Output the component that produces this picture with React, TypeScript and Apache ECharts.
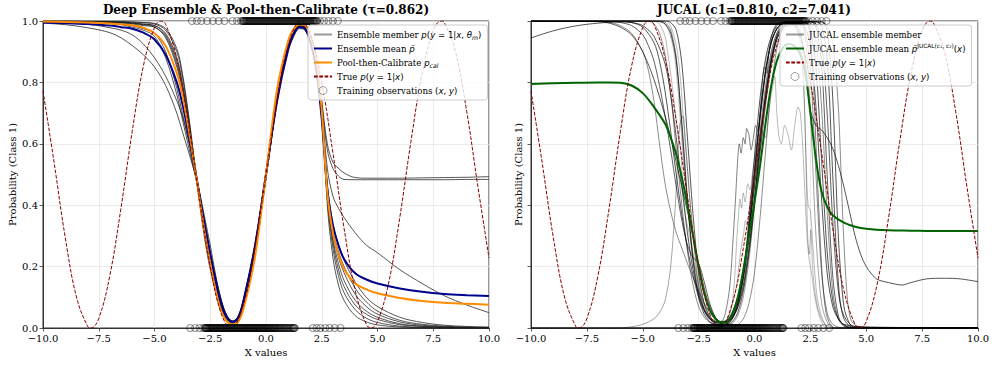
import React, { useEffect, useRef } from "react";
import * as echarts from "echarts";

// ---------- shared x grid for the left panel ----------
const X_L = [-10, -9, -8, -7, -6.5, -6, -5.5, -5, -4.5, -4, -3.75, -3.5, -3.25, -3, -2.75, -2.5, -2.25, -2, -1.75, -1.5, -1.25, -1, -0.5, 0, 0.5, 1, 1.25, 1.5, 1.75, 2, 2.25, 2.5, 2.75, 3, 3.25, 3.5, 4, 4.5, 5, 6, 7, 8, 9, 10];

// left panel: deep-ensemble members
const L_M1 = [0.993, 0.988, 0.978, 0.962, 0.945, 0.92, 0.89, 0.85, 0.79, 0.70, 0.64, 0.58, 0.52, 0.45, 0.36, 0.27, 0.17, 0.09, 0.04, 0.022, 0.035, 0.09, 0.26, 0.49, 0.73, 0.9, 0.95, 0.975, 0.97, 0.925, 0.84, 0.70, 0.46, 0.32, 0.25, 0.20, 0.13, 0.085, 0.055, 0.025, 0.012, 0.006, 0.003, 0.002];
const L_M2 = [0.997, 0.994, 0.99, 0.978, 0.97, 0.955, 0.925, 0.88, 0.82, 0.74, 0.69, 0.62, 0.54, 0.45, 0.34, 0.24, 0.15, 0.08, 0.035, 0.02, 0.035, 0.095, 0.27, 0.5, 0.74, 0.91, 0.955, 0.98, 0.975, 0.93, 0.845, 0.69, 0.44, 0.29, 0.21, 0.155, 0.09, 0.055, 0.035, 0.014, 0.006, 0.003, 0.001, 0.001];
const L_M3 = [0.999, 0.999, 0.998, 0.997, 0.996, 0.994, 0.99, 0.985, 0.96, 0.88, 0.80, 0.69, 0.56, 0.43, 0.31, 0.21, 0.13, 0.065, 0.03, 0.018, 0.03, 0.085, 0.255, 0.5, 0.75, 0.92, 0.965, 0.985, 0.98, 0.94, 0.86, 0.74, 0.60, 0.54, 0.52, 0.505, 0.49, 0.488, 0.488, 0.488, 0.489, 0.49, 0.491, 0.493];
const L_M4 = [0.999, 0.999, 0.998, 0.996, 0.995, 0.992, 0.988, 0.98, 0.95, 0.86, 0.78, 0.68, 0.56, 0.44, 0.32, 0.22, 0.14, 0.07, 0.032, 0.02, 0.033, 0.09, 0.26, 0.5, 0.745, 0.915, 0.96, 0.982, 0.978, 0.935, 0.855, 0.73, 0.58, 0.52, 0.495, 0.484, 0.483, 0.483, 0.483, 0.483, 0.483, 0.483, 0.484, 0.484];
const L_M5 = [0.999, 0.998, 0.997, 0.994, 0.99, 0.985, 0.975, 0.96, 0.90, 0.78, 0.70, 0.62, 0.53, 0.44, 0.34, 0.24, 0.16, 0.085, 0.038, 0.022, 0.036, 0.095, 0.27, 0.51, 0.75, 0.915, 0.96, 0.98, 0.975, 0.93, 0.85, 0.72, 0.52, 0.43, 0.39, 0.36, 0.31, 0.27, 0.245, 0.19, 0.145, 0.105, 0.075, 0.05];
const L_M6 = [0.999, 0.999, 0.999, 0.998, 0.997, 0.996, 0.994, 0.99, 0.97, 0.90, 0.82, 0.70, 0.56, 0.42, 0.30, 0.20, 0.12, 0.06, 0.028, 0.017, 0.03, 0.08, 0.25, 0.49, 0.74, 0.915, 0.962, 0.985, 0.98, 0.935, 0.85, 0.71, 0.42, 0.26, 0.17, 0.115, 0.06, 0.032, 0.018, 0.006, 0.002, 0.001, 0, 0];
const L_M7 = [0.999, 0.998, 0.996, 0.992, 0.988, 0.98, 0.97, 0.95, 0.88, 0.76, 0.68, 0.60, 0.52, 0.44, 0.35, 0.25, 0.165, 0.09, 0.04, 0.023, 0.038, 0.1, 0.275, 0.51, 0.745, 0.91, 0.955, 0.978, 0.972, 0.925, 0.84, 0.68, 0.43, 0.28, 0.19, 0.135, 0.075, 0.045, 0.028, 0.011, 0.005, 0.002, 0.001, 0];
const L_M8 = [0.999, 0.999, 0.999, 0.998, 0.998, 0.997, 0.995, 0.992, 0.975, 0.91, 0.83, 0.71, 0.57, 0.42, 0.29, 0.19, 0.115, 0.055, 0.026, 0.016, 0.028, 0.078, 0.245, 0.49, 0.74, 0.92, 0.965, 0.987, 0.982, 0.94, 0.86, 0.72, 0.40, 0.23, 0.14, 0.09, 0.04, 0.02, 0.01, 0.003, 0.001, 0, 0, 0];
const L_M9 = [0.999, 0.999, 0.998, 0.996, 0.994, 0.99, 0.985, 0.98, 0.945, 0.85, 0.77, 0.675, 0.555, 0.435, 0.32, 0.22, 0.14, 0.072, 0.033, 0.02, 0.032, 0.088, 0.26, 0.5, 0.745, 0.915, 0.96, 0.983, 0.978, 0.935, 0.855, 0.70, 0.45, 0.31, 0.23, 0.18, 0.11, 0.07, 0.045, 0.02, 0.009, 0.004, 0.002, 0.001];
const L_M10 = [0.999, 0.999, 0.998, 0.997, 0.995, 0.993, 0.989, 0.985, 0.955, 0.87, 0.79, 0.685, 0.56, 0.435, 0.315, 0.215, 0.14, 0.072, 0.033, 0.02, 0.034, 0.09, 0.262, 0.5, 0.75, 0.918, 0.962, 0.984, 0.979, 0.936, 0.856, 0.71, 0.47, 0.34, 0.27, 0.22, 0.15, 0.10, 0.07, 0.035, 0.018, 0.009, 0.005, 0.003];
const L_MEMBERS = [L_M1, L_M2, L_M3, L_M4, L_M5, L_M6, L_M7, L_M8, L_M9, L_M10];

// left panel: ensemble mean and pool-then-calibrate
const L_MEAN = [0.995, 0.993, 0.99, 0.985, 0.98, 0.975, 0.962, 0.94, 0.89, 0.80, 0.73, 0.64, 0.545, 0.44, 0.335, 0.24, 0.15, 0.078, 0.035, 0.02, 0.034, 0.09, 0.26, 0.5, 0.745, 0.912, 0.958, 0.98, 0.975, 0.93, 0.845, 0.68, 0.45, 0.335, 0.27, 0.225, 0.178, 0.158, 0.145, 0.129, 0.118, 0.111, 0.107, 0.104];
const L_CAL = [0.998, 0.997, 0.995, 0.992, 0.989, 0.986, 0.978, 0.96, 0.919, 0.83, 0.76, 0.66, 0.55, 0.43, 0.31, 0.21, 0.12, 0.053, 0.021, 0.011, 0.02, 0.065, 0.229, 0.5, 0.778, 0.937, 0.975, 0.989, 0.986, 0.95, 0.875, 0.71, 0.44, 0.31, 0.24, 0.192, 0.145, 0.126, 0.113, 0.098, 0.088, 0.082, 0.079, 0.076];

// true p(y=1|x)
const X_TRUE = [-10, -9.5, -9, -8.5, -8, -7.85, -7.5, -7, -6.5, -6, -5.5, -5, -4.71, -4.5, -4, -3.5, -3, -2.5, -2, -1.57, -1, -0.5, 0, 0.5, 1, 1.57, 2, 2.5, 3, 3.5, 4, 4.5, 4.71, 5, 5.5, 6, 6.5, 7, 7.5, 7.85, 8, 8.5, 9, 9.5, 10];
const P_TRUE = [0.772, 0.538, 0.294, 0.101, 0.005, 0, 0.031, 0.172, 0.392, 0.64, 0.853, 0.979, 1, 0.989, 0.878, 0.675, 0.429, 0.201, 0.045, 0, 0.079, 0.26, 0.5, 0.74, 0.921, 1, 0.955, 0.799, 0.571, 0.325, 0.122, 0.011, 0, 0.021, 0.147, 0.36, 0.608, 0.828, 0.969, 1, 0.995, 0.899, 0.706, 0.462, 0.228];

// training observations (x positions; label 1 drawn on top, label 0 at bottom)
const OBS_X_LABEL1 = [-3.32, -3.1, -2.9, -2.64, -2.38, -2.12, -1.86, -1.5, -1.3, -1.12,
  -1.05, -1.02, -1.0, -0.97, -0.94, -0.91, -0.89, -0.86, -0.84, -0.81, -0.78, -0.75, -0.73, -0.7, -0.68, -0.65, -0.62, -0.6, -0.57, -0.54, -0.51, -0.49, -0.46, -0.43, -0.41, -0.38, -0.35, -0.32, -0.29, -0.27, -0.24, -0.21, -0.19, -0.16, -0.13, -0.1, -0.08, -0.05, -0.02, 0.01, 0.03, 0.06, 0.09, 0.12, 0.14, 0.17, 0.2, 0.23, 0.25, 0.28, 0.31, 0.34, 0.36, 0.39, 0.42, 0.45, 0.47, 0.5, 0.53, 0.56, 0.58, 0.61, 0.64, 0.66, 0.69, 0.72, 0.75, 0.78, 0.8, 0.83, 0.86, 0.89, 0.91, 0.94, 0.97, 1.0, 1.02, 1.05, 1.08, 1.11, 1.13, 1.16, 1.19, 1.22, 1.24, 1.27, 1.3, 1.33, 1.35, 1.38, 1.41, 1.44, 1.46, 1.49, 1.52, 1.55, 1.57, 1.6, 1.63, 1.66, 1.68, 1.71, 1.74, 1.77, 1.79, 1.82, 1.85, 1.88, 1.9, 1.93, 1.96, 1.99, 2.01, 2.04, 2.07, 2.1, 2.12, 2.15, 2.18, 2.21, 2.24, 2.27, 2.29,
  2.42, 2.6, 2.8, 3.0, 3.22];
const OBS_X_LABEL0 = [-3.4, -3.18, -2.98, -2.82,
  -2.74, -2.72, -2.7, -2.67, -2.65, -2.63, -2.61, -2.58, -2.55, -2.53, -2.5, -2.48, -2.46, -2.43, -2.4, -2.38, -2.36, -2.33, -2.31, -2.28, -2.25, -2.23, -2.21, -2.18, -2.16, -2.13, -2.1, -2.08, -2.06, -2.03, -2.01, -1.98, -1.95, -1.93, -1.91, -1.88, -1.86, -1.83, -1.8, -1.78, -1.76, -1.73, -1.71, -1.68, -1.65, -1.63, -1.61, -1.58, -1.56, -1.53, -1.5, -1.48, -1.46, -1.43, -1.41, -1.38, -1.35, -1.33, -1.31, -1.28, -1.26, -1.23, -1.2, -1.18, -1.16, -1.13, -1.11, -1.08, -1.05, -1.03, -1.01, -0.98, -0.96, -0.93, -0.9, -0.88, -0.86, -0.83, -0.81, -0.78, -0.75, -0.73, -0.71, -0.68, -0.66, -0.63, -0.6, -0.58, -0.56, -0.53, -0.51, -0.48, -0.45, -0.43, -0.41, -0.38, -0.36, -0.33, -0.3, -0.28, -0.26, -0.23, -0.21, -0.18, -0.15, -0.13, -0.11, -0.08, -0.06, -0.03, 0.0, 0.03, 0.05, 0.08, 0.1, 0.13, 0.16, 0.19, 0.21, 0.24, 0.27, 0.3, 0.33, 0.36, 0.38, 0.41, 0.44, 0.47, 0.5, 0.54, 0.57, 0.6, 0.63, 0.67, 0.7, 0.74, 0.78, 0.82, 0.85, 0.89, 0.93, 0.97, 1.01, 1.05, 1.09, 1.13, 1.17, 1.21, 1.24, 1.27, 1.29,
  2.1, 2.27, 2.44, 2.66, 2.85, 3.08, 3.34];

// right panel: JUCAL members, [x, p] pairs
const R_M1 = [[-10, 0.945], [-9, 0.968], [-8, 0.984], [-7, 0.993], [-6, 0.997], [-5.5, 0.995], [-5, 0.985], [-4.5, 0.95], [-4, 0.86], [-3.75, 0.76], [-3.5, 0.62], [-3.25, 0.46], [-3, 0.31], [-2.75, 0.19], [-2.5, 0.11], [-2.25, 0.06], [-2, 0.035], [-1.75, 0.022], [-1.5, 0.018], [-1.25, 0.025], [-1, 0.05], [-0.75, 0.1], [-0.5, 0.19], [-0.25, 0.31], [0, 0.46], [0.25, 0.62], [0.5, 0.76], [0.75, 0.87], [1, 0.94], [1.25, 0.975], [1.5, 0.99], [2, 0.993], [2.25, 0.98], [2.5, 0.92], [2.75, 0.72], [3, 0.42], [3.25, 0.18], [3.5, 0.07], [3.75, 0.03], [4, 0.012], [5, 0.002], [10, 0]];
const R_M2 = [[-10, 0.999], [-7, 0.998], [-6.5, 0.993], [-6, 0.98], [-5.5, 0.955], [-5, 0.9], [-4.5, 0.81], [-4, 0.69], [-3.75, 0.62], [-3.5, 0.54], [-3.25, 0.46], [-3, 0.38], [-2.75, 0.3], [-2.5, 0.21], [-2.25, 0.13], [-2, 0.07], [-1.75, 0.035], [-1.5, 0.02], [-1.25, 0.02], [-1, 0.035], [-0.75, 0.07], [-0.5, 0.14], [-0.25, 0.26], [0, 0.42], [0.25, 0.6], [0.5, 0.75], [0.75, 0.87], [1, 0.95], [1.25, 0.985], [1.5, 0.995], [2.25, 0.995], [2.5, 0.97], [2.75, 0.85], [3, 0.55], [3.25, 0.25], [3.5, 0.09], [3.75, 0.03], [4, 0.01], [4.5, 0], [10, 0]];
const R_M3 = [[-10, 1], [-6.5, 0.999], [-6, 0.995], [-5.5, 0.985], [-5, 0.955], [-4.75, 0.92], [-4.5, 0.87], [-4.25, 0.79], [-4, 0.69], [-3.75, 0.58], [-3.5, 0.46], [-3.25, 0.35], [-3, 0.27], [-2.75, 0.23], [-2.5, 0.21], [-2.25, 0.15], [-2, 0.08], [-1.75, 0.035], [-1.5, 0.015], [-1.25, 0.012], [-1, 0.02], [-0.75, 0.05], [-0.5, 0.12], [-0.25, 0.24], [0, 0.4], [0.25, 0.57], [0.5, 0.73], [0.75, 0.86], [1, 0.94], [1.25, 0.98], [1.5, 0.995], [2.5, 0.998], [2.75, 0.99], [3, 0.93], [3.25, 0.7], [3.5, 0.35], [3.75, 0.12], [4, 0.04], [4.5, 0.005], [10, 0]];
const R_M4 = [[-10, 1], [-4.5, 1], [-4.25, 0.998], [-4, 0.99], [-3.75, 0.96], [-3.5, 0.87], [-3.25, 0.67], [-3, 0.42], [-2.75, 0.22], [-2.5, 0.1], [-2.25, 0.045], [-2, 0.02], [-1.75, 0.01], [-1.5, 0.008], [-1.25, 0.012], [-1, 0.03], [-0.75, 0.07], [-0.5, 0.16], [-0.25, 0.3], [0, 0.5], [0.25, 0.69], [0.5, 0.84], [0.75, 0.93], [1, 0.975], [1.25, 0.992], [1.5, 0.998], [3, 0.998], [3.25, 0.97], [3.5, 0.75], [3.75, 0.3], [4, 0.07], [4.25, 0.015], [4.5, 0], [10, 0]];
const R_M5 = [[-10, 1], [-4, 1], [-3.75, 0.995], [-3.5, 0.97], [-3.25, 0.86], [-3, 0.62], [-2.75, 0.37], [-2.5, 0.18], [-2.25, 0.08], [-2, 0.035], [-1.75, 0.015], [-1.5, 0.01], [-1.25, 0.015], [-1, 0.035], [-0.75, 0.08], [-0.5, 0.18], [-0.25, 0.35], [0, 0.56], [0.25, 0.75], [0.5, 0.88], [0.75, 0.95], [1, 0.985], [1.25, 0.997], [2.75, 0.998], [3, 0.985], [3.25, 0.88], [3.5, 0.5], [3.75, 0.15], [4, 0.03], [4.5, 0], [10, 0]];
const R_M6 = [[-10, 1], [-7, 0.999], [-6.5, 0.996], [-6, 0.985], [-5.5, 0.96], [-5, 0.9], [-4.75, 0.84], [-4.5, 0.74], [-4.25, 0.6], [-4, 0.47], [-3.75, 0.38], [-3.5, 0.31], [-3.25, 0.26], [-3, 0.21], [-2.75, 0.165], [-2.5, 0.12], [-2.25, 0.08], [-2, 0.05], [-1.75, 0.03], [-1.5, 0.022], [-1.25, 0.025], [-1, 0.045], [-0.75, 0.09], [-0.5, 0.17], [-0.25, 0.3], [0, 0.47], [0.25, 0.64], [0.5, 0.79], [0.75, 0.9], [1, 0.96], [1.25, 0.985], [1.5, 0.995], [2, 0.995], [2.25, 0.97], [2.5, 0.84], [2.75, 0.5], [3, 0.18], [3.25, 0.05], [3.5, 0.012], [4, 0], [10, 0]];
const R_M7 = [[-10, 0], [-6, 0], [-5.5, 0.004], [-5, 0.012], [-4.5, 0.03], [-4.25, 0.05], [-4, 0.09], [-3.75, 0.2], [-3.5, 0.45], [-3.35, 0.66], [-3.2, 0.69], [-3.1, 0.62], [-3, 0.52], [-2.75, 0.3], [-2.5, 0.14], [-2.25, 0.06], [-2, 0.025], [-1.5, 0.008], [-1, 0.015], [-0.75, 0.04], [-0.5, 0.1], [-0.25, 0.22], [0, 0.4], [0.25, 0.6], [0.5, 0.77], [0.75, 0.89], [1, 0.96], [1.25, 0.99], [2, 0.995], [2.25, 0.96], [2.5, 0.7], [2.75, 0.3], [3, 0.08], [3.25, 0.02], [3.5, 0], [10, 0]];
const R_M8 = [[-10, 0], [-2, 0], [-1.5, 0.004], [-1.25, 0.01], [-1, 0.03], [-0.75, 0.08], [-0.5, 0.17], [-0.25, 0.32], [0, 0.5], [0.25, 0.68], [0.5, 0.83], [0.75, 0.93], [1, 0.975], [1.25, 0.992], [1.5, 0.998], [2.5, 0.998], [2.75, 0.98], [3, 0.86], [3.25, 0.5], [3.5, 0.17], [3.75, 0.04], [4, 0.008], [4.5, 0], [10, 0]];
const R_M9 = [[-10, 0], [-1, 0], [-0.75, 0.01], [-0.5, 0.03], [-0.25, 0.08], [0, 0.18], [0.25, 0.36], [0.5, 0.58], [0.75, 0.78], [1, 0.91], [1.25, 0.97], [1.5, 0.99], [2.25, 0.995], [2.5, 0.985], [2.75, 0.93], [3, 0.72], [3.25, 0.38], [3.5, 0.12], [3.75, 0.03], [4, 0.006], [4.5, 0], [10, 0]];
const R_M10 = [[-10, 1], [-6, 0.999], [-5.5, 0.995], [-5, 0.98], [-4.5, 0.93], [-4.25, 0.87], [-4, 0.77], [-3.75, 0.64], [-3.5, 0.5], [-3.25, 0.37], [-3, 0.26], [-2.75, 0.17], [-2.5, 0.1], [-2.25, 0.055], [-2, 0.03], [-1.75, 0.018], [-1.5, 0.015], [-1.25, 0.02], [-1, 0.04], [-0.75, 0.09], [-0.5, 0.18], [-0.25, 0.33], [0, 0.52], [0.25, 0.7], [0.5, 0.84], [0.75, 0.93], [1, 0.975], [1.25, 0.99], [1.75, 0.99], [2, 0.97], [2.25, 0.88], [2.5, 0.71], [2.75, 0.66], [3, 0.645], [3.25, 0.62], [3.5, 0.585], [3.75, 0.53], [4, 0.46], [4.25, 0.38], [4.5, 0.3], [4.75, 0.24], [5, 0.2], [5.25, 0.175], [5.5, 0.158], [6, 0.148], [6.6, 0.14], [7, 0.148], [7.7, 0.16], [8.5, 0.162], [9.2, 0.16], [10, 0.151]];
const R_M11 = [[-10, 1], [-4.75, 1], [-4.5, 0.99], [-4.25, 0.96], [-4, 0.89], [-3.75, 0.76], [-3.5, 0.58], [-3.25, 0.4], [-3, 0.25], [-2.75, 0.14], [-2.5, 0.07], [-2.25, 0.035], [-2, 0.018], [-1.5, 0.01], [-1.25, 0.015], [-1, 0.03], [-0.75, 0.065], [-0.5, 0.13], [-0.25, 0.25], [0, 0.42], [0.25, 0.6], [0.5, 0.76], [0.75, 0.88], [1, 0.95], [1.25, 0.98], [1.5, 0.995], [3, 0.996], [3.25, 0.985], [3.5, 0.93], [3.75, 0.72], [3.9, 0.45], [4, 0.28], [4.15, 0.1], [4.3, 0.03], [4.5, 0.01], [5, 0], [10, 0]];
const R_N1 = [[-10, 1], [-4.25, 1], [-4, 0.995], [-3.75, 0.97], [-3.5, 0.88], [-3.3, 0.7], [-3.1, 0.5], [-2.9, 0.33], [-2.7, 0.2], [-2.5, 0.12], [-2.25, 0.06], [-2, 0.03], [-1.75, 0.02], [-1.5, 0.02], [-1.3, 0.05], [-1.1, 0.14], [-0.95, 0.3], [-0.85, 0.42], [-0.75, 0.55], [-0.68, 0.6], [-0.6, 0.57], [-0.5, 0.62], [-0.42, 0.6], [-0.35, 0.65], [-0.25, 0.63], [-0.15, 0.58], [-0.05, 0.62], [0.05, 0.66], [0.15, 0.64], [0.25, 0.7], [0.35, 0.8], [0.45, 0.85], [0.55, 0.83], [0.65, 0.9], [0.8, 0.96], [1, 0.99], [1.5, 0.998], [2.3, 0.998], [2.45, 0.97], [2.6, 0.85], [2.75, 0.6], [2.9, 0.35], [3.05, 0.15], [3.2, 0.05], [3.4, 0.01], [3.6, 0], [10, 0]];
const R_N2 = [[-10, 1], [-4.5, 1], [-4.25, 0.99], [-4, 0.95], [-3.85, 0.88], [-3.7, 0.8], [-3.6, 0.74], [-3.45, 0.64], [-3.3, 0.58], [-3.2, 0.45], [-3.05, 0.35], [-2.9, 0.3], [-2.75, 0.22], [-2.6, 0.18], [-2.45, 0.1], [-2.25, 0.06], [-2, 0.03], [-1.75, 0.02], [-1.5, 0.015], [-1.25, 0.025], [-1.05, 0.06], [-0.9, 0.15], [-0.8, 0.28], [-0.72, 0.36], [-0.65, 0.42], [-0.58, 0.39], [-0.5, 0.44], [-0.42, 0.41], [-0.3, 0.47], [-0.2, 0.45], [-0.1, 0.5], [0, 0.55], [0.1, 0.6], [0.2, 0.65], [0.3, 0.72], [0.4, 0.78], [0.5, 0.86], [0.6, 0.9], [0.8, 0.95], [1, 0.98], [1.2, 0.97], [1.4, 0.99], [2.0, 0.99], [2.1, 0.96], [2.2, 0.8], [2.3, 0.55], [2.38, 0.3], [2.45, 0.24], [2.52, 0.32], [2.6, 0.2], [2.7, 0.12], [2.85, 0.06], [3, 0.03], [3.2, 0.01], [3.5, 0], [10, 0]];
const R_L1 = [[-10, 1], [-4, 1], [-3.8, 0.99], [-3.6, 0.95], [-3.45, 0.9], [-3.3, 0.8], [-3.2, 0.7], [-3.1, 0.6], [-3.0, 0.52], [-2.9, 0.42], [-2.8, 0.35], [-2.65, 0.24], [-2.5, 0.17], [-2.35, 0.1], [-2.2, 0.07], [-2, 0.04], [-1.75, 0.02], [-1.5, 0.015], [-1.3, 0.02], [-1.1, 0.05], [-0.95, 0.09], [-0.8, 0.14], [-0.7, 0.2], [-0.6, 0.26], [-0.5, 0.3], [-0.4, 0.35], [-0.3, 0.33], [-0.2, 0.42], [-0.1, 0.46], [0, 0.5], [0.1, 0.55], [0.2, 0.61], [0.3, 0.66], [0.4, 0.7], [0.5, 0.75], [0.6, 0.8], [0.7, 0.86], [0.85, 0.91], [1, 0.95], [1.15, 0.97], [1.3, 0.985], [1.5, 0.98], [1.7, 0.99], [1.9, 0.97], [2.05, 0.92], [2.15, 0.85], [2.25, 0.7], [2.32, 0.52], [2.4, 0.4], [2.5, 0.38], [2.6, 0.28], [2.7, 0.18], [2.8, 0.1], [2.95, 0.05], [3.1, 0.02], [3.3, 0], [10, 0]];
const R_L2 = [[-10, 1], [-4.2, 1], [-4, 0.99], [-3.8, 0.96], [-3.6, 0.9], [-3.45, 0.8], [-3.3, 0.66], [-3.15, 0.52], [-3.0, 0.4], [-2.85, 0.3], [-2.7, 0.22], [-2.5, 0.14], [-2.25, 0.07], [-2, 0.03], [-1.75, 0.015], [-1.5, 0.01], [-1.2, 0.02], [-1, 0.04], [-0.8, 0.08], [-0.6, 0.13], [-0.4, 0.2], [-0.25, 0.28], [-0.1, 0.36], [0, 0.4], [0.1, 0.48], [0.2, 0.56], [0.3, 0.6], [0.4, 0.64], [0.5, 0.62], [0.6, 0.68], [0.7, 0.74], [0.8, 0.78], [0.9, 0.82], [1.0, 0.7], [1.1, 0.62], [1.2, 0.6], [1.35, 0.66], [1.5, 0.63], [1.65, 0.58], [1.8, 0.66], [1.95, 0.72], [2.05, 0.7], [2.15, 0.6], [2.25, 0.45], [2.35, 0.3], [2.45, 0.22], [2.55, 0.18], [2.7, 0.1], [2.85, 0.05], [3, 0.02], [3.2, 0], [10, 0]];
const R_MEMBERS = [R_M1, R_M2, R_M3, R_M4, R_M5, R_M6, R_M7, R_M8, R_M9, R_M10, R_M11, R_N1, R_N2, R_L1, R_L2];
// line opacity per member (style, kept apart from data)
const R_MEMBER_OPACITY = [0.75, 0.75, 0.7, 0.75, 0.75, 0.5, 0.4, 0.7, 0.5, 0.75, 0.5, 0.55, 0.3, 0.3, 0.3];

// right panel: JUCAL ensemble mean
const R_MEAN = [[-10, 0.795], [-9, 0.797], [-8, 0.799], [-7, 0.8], [-6.5, 0.8], [-6, 0.799], [-5.5, 0.79], [-5, 0.765], [-4.5, 0.72], [-4, 0.665], [-3.75, 0.62], [-3.5, 0.565], [-3.25, 0.49], [-3, 0.4], [-2.75, 0.3], [-2.5, 0.2], [-2.25, 0.115], [-2, 0.06], [-1.75, 0.03], [-1.5, 0.018], [-1.25, 0.02], [-1, 0.045], [-0.75, 0.1], [-0.5, 0.19], [-0.25, 0.3], [0, 0.41], [0.25, 0.53], [0.5, 0.67], [0.75, 0.79], [1, 0.87], [1.25, 0.91], [1.5, 0.925], [1.75, 0.92], [2, 0.9], [2.25, 0.84], [2.5, 0.7], [2.75, 0.55], [3, 0.445], [3.25, 0.395], [3.5, 0.367], [4, 0.343], [4.5, 0.33], [5, 0.323], [6, 0.318], [7, 0.317], [8, 0.316], [9, 0.316], [10, 0.316]];

// tick settings
const X_MIN = -10, X_MAX = 10, X_STEP = 2.5;
const Y_MIN = 0, Y_MAX = 1, Y_STEP = 0.2;

const SERIF = "'DejaVu Serif', serif";
const MATHF = "'DejaVu Sans', sans-serif";

const LEGEND_TEXT: Record<string, string> = {
  lMember: "Ensemble member {i|p}{m|(}{i|y}{m| = 1|}{i|x}{m|, }{i|θ}{s|m}{m|)}",
  lMean: "Ensemble mean {i|p\u0304}",
  lCal: "Pool-then-Calibrate {i|p}{s|cal}",
  lTrue: "True {i|p}{m|(}{i|y}{m| = 1|}{i|x}{m|)}",
  lObs: "Training observations {m|(}{i|x}{m|, }{i|y}{m|)}",
  rMember: "JUCAL ensemble member",
  rMean: "JUCAL ensemble mean {i|p\u0304}{u|JUCAL(c\u2081, c\u2082)}{m|(}{i|x}{m|)}",
  rTrue: "True {i|p}{m|(}{i|y}{m| = 1|}{i|x}{m|)}",
  rObs: "Training observations {m|(}{i|x}{m|, }{i|y}{m|)}",
};

function pair(xs: number[], ys: number[]) {
  return xs.map((x, i) => [x, ys[i]]);
}

const fmtX = (v: number) => (v < 0 ? "\u2212" : "") + Math.abs(v).toFixed(1);
const NO_SYMBOL = { color: "rgba(0,0,0,0)", borderWidth: 0, borderColor: "rgba(0,0,0,0)" };

export default function App() {
  const ref = useRef<HTMLDivElement>(null);
  useEffect(() => {
    const chart = echarts.init(ref.current as HTMLDivElement, null, { renderer: "svg" });
    const AX = "#333333";
    const xAxis = (gi: number) => ({
      type: "value", gridIndex: gi, min: X_MIN, max: X_MAX, interval: X_STEP,
      name: "X values", nameLocation: "middle", nameGap: 18,
      nameTextStyle: { fontFamily: SERIF, fontSize: 10, color: "#000" },
      axisLine: { show: true, onZero: false, lineStyle: { color: AX, width: 1 } },
      axisTick: { show: true, length: 3.5, lineStyle: { color: AX, width: 0.8 } },
      axisLabel: { fontFamily: SERIF, fontSize: 10, color: "#000", margin: 5, formatter: fmtX, showMinLabel: true, showMaxLabel: true },
      splitLine: { show: true, lineStyle: { color: "#e6e6e6", width: 0.8 } },
    });
    const yAxis = (gi: number, labels: boolean, gap: number) => ({
      type: "value", gridIndex: gi, min: Y_MIN, max: Y_MAX, interval: Y_STEP,
      name: "Probability (Class 1)", nameLocation: "middle", nameGap: gap,
      nameTextStyle: { fontFamily: SERIF, fontSize: 10, color: "#000" },
      axisLine: { show: true, onZero: false, lineStyle: { color: AX, width: 1 } },
      axisTick: { show: true, length: 3.5, lineStyle: { color: AX, width: 0.8 } },
      axisLabel: { show: labels, fontFamily: SERIF, fontSize: 10, color: "#000", margin: 5, formatter: (v: number) => v.toFixed(1) },
      splitLine: { show: true, lineStyle: { color: "#e6e6e6", width: 0.8 } },
    });

    const obs = OBS_X_LABEL1.map((x) => [x, 1]).concat(OBS_X_LABEL0.map((x) => [x, 0]));
    const obsStyle = { color: "rgba(0,0,0,0)", borderColor: "rgba(0,0,0,0.5)", borderWidth: 1.1 };
    const trueStyle = { color: "#8b0000", width: 1, type: [3.7, 1.6] };

    const series: any[] = [];
    L_MEMBERS.forEach((m) => {
      series.push({
        type: "line", name: "lMember", xAxisIndex: 0, yAxisIndex: 0, data: pair(X_L, m),
        smooth: 0.35, symbol: "none", showSymbol: false,
        lineStyle: { color: "rgba(30,30,30,0.75)", width: 1 }, itemStyle: NO_SYMBOL, silent: true,
      });
    });
    series.push({ type: "line", name: "lMean", xAxisIndex: 0, yAxisIndex: 0, data: pair(X_L, L_MEAN), smooth: 0.35, symbol: "none", lineStyle: { color: "#00008b", width: 2 }, itemStyle: NO_SYMBOL, silent: true });
    series.push({ type: "line", name: "lCal", xAxisIndex: 0, yAxisIndex: 0, data: pair(X_L, L_CAL), smooth: 0.35, symbol: "none", lineStyle: { color: "#ff8c00", width: 2 }, itemStyle: NO_SYMBOL, silent: true });
    series.push({ type: "line", name: "lTrue", xAxisIndex: 0, yAxisIndex: 0, data: pair(X_TRUE, P_TRUE), smooth: 0.4, symbol: "none", lineStyle: trueStyle, itemStyle: NO_SYMBOL, silent: true });
    series.push({ type: "scatter", name: "lObs", xAxisIndex: 0, yAxisIndex: 0, data: obs, symbol: "circle", symbolSize: 7, itemStyle: obsStyle, clip: false, silent: true, z: 3 });

    R_MEMBERS.forEach((m, k) => {
      series.push({
        type: "line", name: "rMember", xAxisIndex: 1, yAxisIndex: 1, data: m,
        smooth: 0.3, symbol: "none", showSymbol: false,
        lineStyle: { color: `rgba(0,0,0,${R_MEMBER_OPACITY[k]})`, width: 0.9 }, itemStyle: NO_SYMBOL, silent: true,
      });
    });
    series.push({ type: "line", name: "rMean", xAxisIndex: 1, yAxisIndex: 1, data: R_MEAN, smooth: 0.35, symbol: "none", lineStyle: { color: "#006400", width: 2 }, itemStyle: NO_SYMBOL, silent: true });
    series.push({ type: "line", name: "rTrue", xAxisIndex: 1, yAxisIndex: 1, data: pair(X_TRUE, P_TRUE), smooth: 0.4, symbol: "none", lineStyle: trueStyle, itemStyle: NO_SYMBOL, silent: true });
    series.push({ type: "scatter", name: "rObs", xAxisIndex: 1, yAxisIndex: 1, data: obs, symbol: "circle", symbolSize: 7, itemStyle: obsStyle, clip: false, silent: true, z: 3 });

    const rich = {
      i: { fontFamily: MATHF, fontStyle: "italic", fontSize: 8.6, lineHeight: 11, color: "#000" },
      m: { fontFamily: MATHF, fontSize: 8.6, lineHeight: 11, color: "#000" },
      s: { fontFamily: MATHF, fontStyle: "italic", fontSize: 6.2, lineHeight: 7, verticalAlign: "bottom", color: "#000" },
      u: { fontFamily: MATHF, fontSize: 5.8, lineHeight: 7, verticalAlign: "top", color: "#000" },
    };
    const legendBase = {
      orient: "vertical", top: 25, itemWidth: 18, itemHeight: 8, itemGap: 3,
      padding: [4, 6, 4, 5], selectedMode: false,
      backgroundColor: "rgba(255,255,255,0.8)", borderColor: "#cccccc", borderWidth: 1, borderRadius: 3,
      formatter: (n: string) => LEGEND_TEXT[n] || n,
      textStyle: { fontFamily: SERIF, fontSize: 8.6, lineHeight: 11, color: "#000", rich },
    };
    const obsIcon = { icon: "circle", itemStyle: { color: "rgba(255,255,255,0)", borderColor: "rgba(0,0,0,0.45)", borderWidth: 1 } };

    const option: any = {
      animation: false,
      backgroundColor: "#ffffff",
      grid: [
        { left: 43, top: 21, width: 446, height: 307, show: true, borderColor: AX, borderWidth: 1, backgroundColor: "transparent" },
        { left: 531, top: 21, width: 447, height: 307, show: true, borderColor: AX, borderWidth: 1, backgroundColor: "transparent" },
      ],
      xAxis: [xAxis(0), xAxis(1)],
      yAxis: [yAxis(0, true, 26), yAxis(1, false, 8)],
      legend: [
        { ...legendBase, left: 308, data: [{ name: "lMember", lineStyle: { color: "rgba(0,0,0,0.4)" } }, "lMean", "lCal", "lTrue", { name: "lObs", ...obsIcon }] },
        { ...legendBase, left: 780, data: [{ name: "rMember", lineStyle: { color: "rgba(0,0,0,0.4)" } }, "rMean", "rTrue", { name: "rObs", ...obsIcon }] },
      ],
      graphic: [
        { type: "text", x: 266, y: 10, style: { text: "Deep Ensemble & Pool-then-Calibrate (\u03c4=0.862)", fill: "#000", fontSize: 12, fontWeight: "bold", fontFamily: SERIF, align: "center", verticalAlign: "middle", textAlign: "center", textVerticalAlign: "middle" } },
        { type: "text", x: 754, y: 10, style: { text: "JUCAL (c1=0.810, c2=7.041)", fill: "#000", fontSize: 12, fontWeight: "bold", fontFamily: SERIF, align: "center", verticalAlign: "middle", textAlign: "center", textVerticalAlign: "middle" } },
      ],
      series,
    };
    chart.setOption(option);
    return () => chart.dispose();
  }, []);
  return <div ref={ref} style={{ position: "fixed", left: 0, top: 0, width: 996, height: 365, background: "#fff" }} />;
}
